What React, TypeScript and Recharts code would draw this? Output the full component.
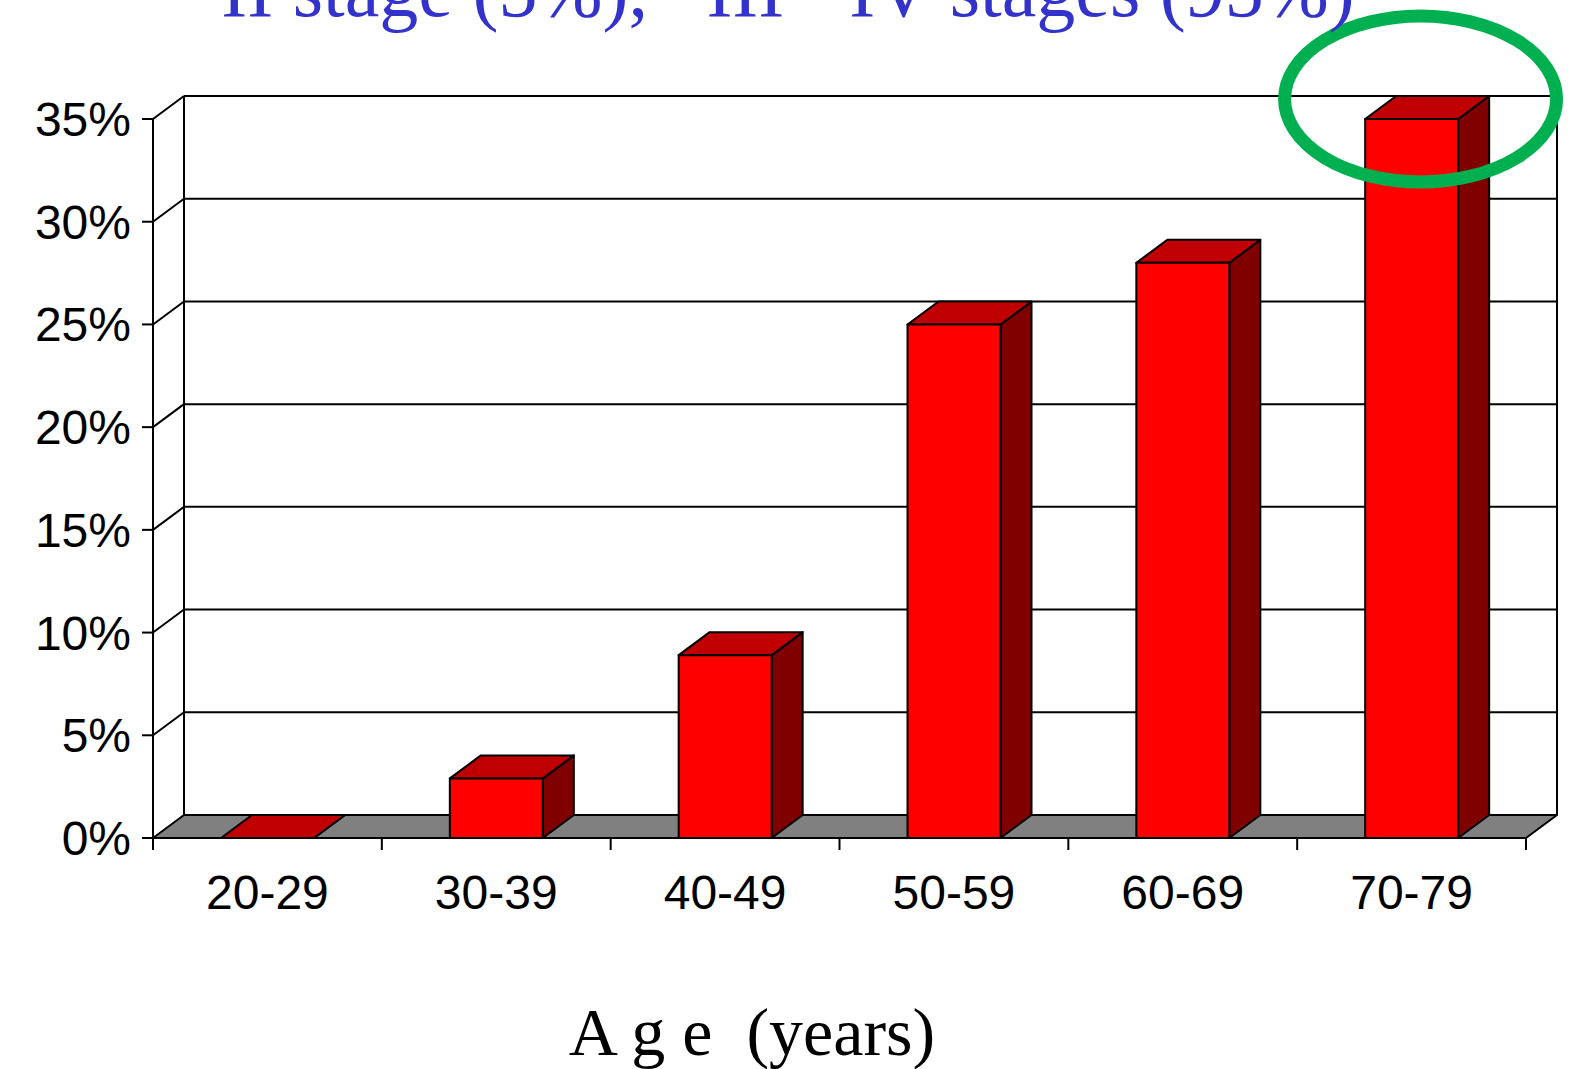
import { Bar, BarChart, CartesianGrid, ReferenceDot, XAxis, YAxis } from "recharts";

const ageGroups = ["20-29", "30-39", "40-49", "50-59", "60-69", "70-79"];
const shares = [0, 2.9, 8.9, 25, 28, 35];
const yTicks = [0, 5, 10, 15, 20, 25, 30, 35];

const titleText = "II stage (5%),   III - IV stages (95%)";
const axisTitle = "A g e  (years)";

const data = ageGroups.map((age, i) => ({ age, share: shares[i] }));

// depth of the fake 3D box
const DX = 31;
const DY = -23;
const sans = "'Liberation Sans', Arial, sans-serif";
const serif = "'Liberation Serif', 'Times New Roman', serif";

function GridLine(props: any) {
  const { x1, y1, x2, y2, y, height } = props;
  const isFloor = Math.abs(y1 - (y + height)) < 1;
  if (isFloor) {
    return (
      <g key={props.key}>
        <line x1={x1 + DX} y1={y + DY} x2={x1 + DX} y2={y + height + DY} stroke="#000" strokeWidth={2} />
        <line x1={x2 + DX} y1={y + DY} x2={x2 + DX} y2={y + height + DY} stroke="#000" strokeWidth={2} />
        <polygon
          points={`${x1},${y1} ${x2},${y2} ${x2 + DX},${y2 + DY} ${x1 + DX},${y1 + DY}`}
          fill="#808080"
          stroke="#000"
          strokeWidth={2}
          strokeLinejoin="round"
        />
      </g>
    );
  }
  return (
    <g key={props.key}>
      <line x1={x1} y1={y1} x2={x1 + DX} y2={y1 + DY} stroke="#000" strokeWidth={2} />
      <line x1={x1 + DX} y1={y1 + DY} x2={x2 + DX} y2={y2 + DY} stroke="#000" strokeWidth={2} />
    </g>
  );
}

function Box3D(props: any) {
  const { x, y, width, height } = props;
  const w = width;
  const h = Math.max(height, 0);
  return (
    <g stroke="#000" strokeWidth={2} strokeLinejoin="round">
      <polygon
        points={`${x + w},${y} ${x + w + DX},${y + DY} ${x + w + DX},${y + h + DY} ${x + w},${y + h}`}
        fill="#800000"
      />
      <polygon
        points={`${x},${y} ${x + w},${y} ${x + w + DX},${y + DY} ${x + DX},${y + DY}`}
        fill="#C00000"
      />
      {h > 0 && <rect x={x} y={y} width={w} height={h} fill="#FF0000" />}
    </g>
  );
}

function AgeTick(props: any) {
  const { x, y, payload, index, visibleTicksCount, width } = props;
  const half = payload?.offset || (width && visibleTicksCount ? width / visibleTicksCount / 2 : 114);
  const top = y - 12;
  return (
    <g>
      <line x1={x - half} y1={top} x2={x - half} y2={top + 12} stroke="#000" strokeWidth={2} />
      {index === visibleTicksCount - 1 && (
        <line x1={x + half} y1={top} x2={x + half} y2={top + 12} stroke="#000" strokeWidth={2} />
      )}
      <text x={x} y={top + 71} textAnchor="middle" fontSize={48} fontFamily={sans} fill="#000">
        {payload.value}
      </text>
    </g>
  );
}

function Halo(props: any) {
  const { cx, cy } = props;
  return <ellipse cx={cx + 9} cy={cy - 20} rx={136} ry={83} fill="none" stroke="#00B050" strokeWidth={13} />;
}

export default function App() {
  return (
    <div style={{ position: "absolute", left: 0, top: 0, width: 1573, height: 1069, overflow: "hidden", background: "#fff" }}>
      <BarChart width={1573} height={1069} data={data} margin={{ top: 119, right: 47, bottom: 0, left: 0 }}>
        <CartesianGrid vertical={false} horizontal={GridLine as any} stroke="#000" />
        <XAxis
          dataKey="age"
          height={231}
          axisLine={false}
          tickLine={false}
          tickSize={12}
          tickMargin={0}
          interval={0}
          tick={AgeTick}
        />
        <YAxis
          width={153}
          domain={[0, 35]}
          ticks={yTicks}
          interval={0}
          tickFormatter={(v: number) => `${v}%`}
          tickSize={11}
          tickMargin={11}
          axisLine={{ stroke: "#000", strokeWidth: 2 }}
          tickLine={{ stroke: "#000", strokeWidth: 2 }}
          tick={{ fontSize: 48, fontFamily: sans, fill: "#000" }}
        />
        <Bar dataKey="share" barSize={93} shape={Box3D} isAnimationActive={false} />
        <ReferenceDot x="70-79" y={35} r={0} shape={Halo} ifOverflow="visible" />
      </BarChart>
      <svg width={1573} height={1069} style={{ position: "absolute", left: 0, top: 0, pointerEvents: "none" }}>
        <text x={788} y={16} textAnchor="middle" fontSize={78} fontFamily={serif} fill="#3333CC" style={{ whiteSpace: "pre" }}>
          {titleText}
        </text>
        <text x={752} y={1055} textAnchor="middle" fontSize={68} fontFamily={serif} fill="#000" style={{ whiteSpace: "pre" }}>
          {axisTitle}
        </text>
      </svg>
    </div>
  );
}
